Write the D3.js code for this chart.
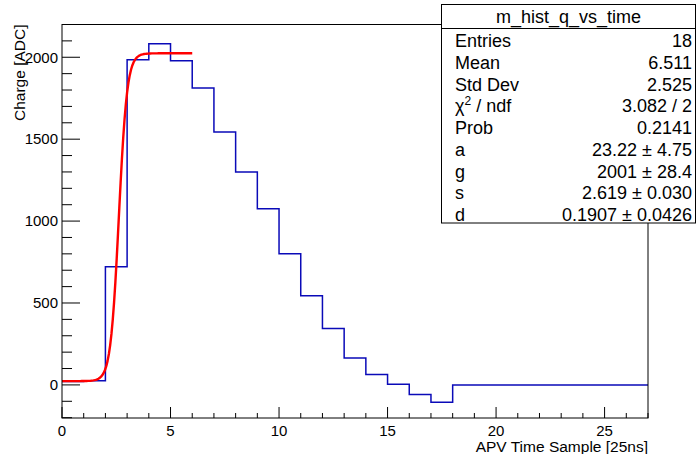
<!DOCTYPE html>
<html>
<head>
<meta charset="utf-8">
<script src="https://cdn.jsdelivr.net/npm/d3@7"></script>
<style>
  html, body { margin: 0; padding: 0; background: #fff; }
  svg { display: block; font-family: "Liberation Sans", Arial, Helvetica, sans-serif; }
</style>
</head>
<body>
<svg id="chart" width="697" height="454"></svg>
<script>
// Histogram bin contents (bin width 1, range 0..27)
const binEdges = d3.range(0, 28);
const binValues = [21, 25, 722, 1985, 2083, 1979, 1812, 1544, 1299, 1075,
                   800, 544, 344, 165, 63, 4, -59, -106,
                   0, 0, 0, 0, 0, 0, 0, 0, 0];

// Fit parameters shown in the statistics box
const fitParams = { a: 23.22, g: 2001, s: 2.619, d: 0.1907 };
const fitRange = [0, 6];
const fitPoints = 100;

// Statistics box rows
const statsTitle = "m_hist_q_vs_time";
const statsLabels = ["Entries", "Mean", "Std Dev", "chi2", "Prob", "a", "g", "s", "d"];
const statsValues = ["18", "6.511", "2.525", "3.082 / 2", "0.2141",
                     "23.22 \u00b1 4.75", "2001 \u00b1 28.4", "2.619 \u00b1 0.030", "0.1907 \u00b1 0.0426"];

// Axis ticks
const xMajorTicks = [0, 5, 10, 15, 20, 25];
const xMinorTicks = d3.range(0, 28);
const yMajorTicks = [0, 500, 1000, 1500, 2000];
const yMinorTicks = d3.range(-200, 2201, 100);

const xTitle = "APV Time Sample [25ns]";
const yTitle = "Charge [ADC]";

const svg = d3.select("#chart");
const frame = { left: 62, right: 648, top: 24.5, bottom: 418 };

const x = d3.scaleLinear().domain([0, 27]).range([frame.left, frame.right]);
const y = d3.scaleLinear().domain([-202, 2200]).range([frame.bottom, frame.top]);

// Histogram outline as a step line
const histPts = binEdges.map((e, i) => [e, i < binValues.length ? binValues[i] : binValues[binValues.length - 1]]);
const stepLine = d3.line().x(d => x(d[0])).y(d => y(d[1])).curve(d3.curveStepAfter);
svg.append("path")
  .attr("d", stepLine(histPts))
  .attr("fill", "none")
  .attr("stroke", "#0a0ab8")
  .attr("stroke-width", 1.5);

// Fitted sigmoid a + g / (1 + exp(-(t - s)/d))
const fitFn = t => fitParams.a + fitParams.g / (1 + Math.exp(-(t - fitParams.s) / fitParams.d));
const fitData = d3.range(fitPoints + 1).map(i => {
  const t = fitRange[0] + (fitRange[1] - fitRange[0]) * i / fitPoints;
  return [t, fitFn(t)];
});
svg.append("path")
  .attr("d", d3.line().x(d => x(d[0])).y(d => y(d[1]))(fitData))
  .attr("fill", "none")
  .attr("stroke", "#ff0000")
  .attr("stroke-width", 2.4)
  .attr("stroke-linejoin", "round");

// Frame
svg.append("rect")
  .attr("x", frame.left).attr("y", frame.top)
  .attr("width", frame.right - frame.left).attr("height", frame.bottom - frame.top)
  .attr("fill", "none").attr("stroke", "#000").attr("stroke-width", 1);

// X axis ticks (pointing into the frame)
const gx = svg.append("g");
gx.selectAll("line.minor").data(xMinorTicks).join("line")
  .attr("x1", d => x(d)).attr("x2", d => x(d))
  .attr("y1", frame.bottom).attr("y2", d => frame.bottom - (d % 5 === 0 ? 11 : 5))
  .attr("stroke", "#000").attr("stroke-width", 1);
gx.selectAll("text").data(xMajorTicks).join("text")
  .attr("x", d => x(d)).attr("y", 436)
  .attr("text-anchor", "middle")
  .attr("font-size", 15)
  .attr("fill", "#000")
  .text(d => d);

// Y axis ticks
const gy = svg.append("g");
gy.selectAll("line").data(yMinorTicks).join("line")
  .attr("x1", frame.left).attr("x2", d => frame.left + (d % 500 === 0 ? 18 : 10))
  .attr("y1", d => y(d)).attr("y2", d => y(d))
  .attr("stroke", "#000").attr("stroke-width", 1);
gy.selectAll("text").data(yMajorTicks).join("text")
  .attr("x", 58).attr("y", d => y(d) + 5.3)
  .attr("text-anchor", "end")
  .attr("font-size", 15)
  .attr("fill", "#000")
  .text(d => d);

// Axis titles
svg.append("text")
  .attr("x", frame.right).attr("y", 452)
  .attr("text-anchor", "end").attr("font-size", 15.5).attr("fill", "#000")
  .text(xTitle);
svg.append("text")
  .attr("transform", `translate(24.5, ${frame.top}) rotate(-90)`)
  .attr("text-anchor", "end").attr("font-size", 15.5).attr("fill", "#000")
  .text(yTitle);

// Statistics box
const box = { x: 441.5, y: 4.5, w: 254, h: 218.5, titleH: 24 };
const gs = svg.append("g");
gs.append("rect")
  .attr("x", box.x).attr("y", box.y).attr("width", box.w).attr("height", box.h)
  .attr("fill", "#fff").attr("stroke", "#000").attr("stroke-width", 1);
gs.append("line")
  .attr("x1", box.x).attr("x2", box.x + box.w)
  .attr("y1", box.y + box.titleH).attr("y2", box.y + box.titleH)
  .attr("stroke", "#000").attr("stroke-width", 1);
gs.append("text")
  .attr("x", box.x + box.w / 2).attr("y", box.y + 18.5)
  .attr("text-anchor", "middle").attr("font-size", 18).attr("fill", "#000")
  .text(statsTitle);

const rowY = i => 47 + i * 21.75;
statsLabels.forEach((lab, i) => {
  const t = gs.append("text")
    .attr("x", 455).attr("y", rowY(i))
    .attr("font-size", 18).attr("fill", "#000");
  if (lab === "chi2") {
    t.append("tspan").text("\u03c7");
    t.append("tspan").attr("font-size", 12).attr("dy", -7).text("2");
    t.append("tspan").attr("dy", 7).text(" / ndf");
  } else {
    t.text(lab);
  }
  gs.append("text")
    .attr("x", 692).attr("y", rowY(i))
    .attr("text-anchor", "end").attr("font-size", 18).attr("fill", "#000")
    .text(statsValues[i]);
});
</script>
</body>
</html>
